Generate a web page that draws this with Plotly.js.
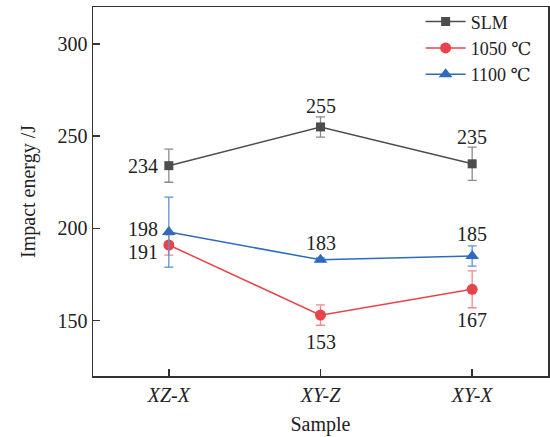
<!DOCTYPE html>
<html>
<head>
<meta charset="utf-8">
<script src="https://cdn.plot.ly/plotly-3.0.1.min.js"></script>
<style>html,body{margin:0;padding:0;background:#fff;}#chart{width:550px;height:437px;}</style>
</head>
<body>
<div id="chart"></div>
<script>
const categories = ['XZ-X', 'XY-Z', 'XY-X'];
const seriesNames = ['SLM', '1050 ℃', '1100 ℃'];
const slmValues = [234, 255, 235];
const slmErrors = [9, 5.5, 9];
const t1050Values = [191, 153, 167];
const t1050Errors = [5.5, 5.5, 10];
const t1100Values = [198, 183, 185];
const t1100Errors = [19, 1, 5.5];
const yTicks = [150, 200, 250, 300];

const FONT = 'Liberation Serif, DejaVu Serif, serif';
const TXT = '#222';

function trace(name, y, err, color, errColor, symbol, size) {
  return {
    x: categories, y: y, name: name, type: 'scatter',
    mode: 'lines+markers',
    line: {color: color, width: 1.5},
    marker: {color: color, symbol: symbol, size: size},
    error_y: {type: 'data', array: err, visible: true, color: errColor, thickness: 1.3, width: 4.5}
  };
}

const data = [
  trace(seriesNames[0], slmValues, slmErrors, '#4d4d4d', '#8a8a8a', 'square', 9),
  trace(seriesNames[1], t1050Values, t1050Errors, '#e8434a', '#f08a8a', 'circle', 11),
  trace(seriesNames[2], t1100Values, t1100Errors, '#2d6bbf', '#5b8fd6', 'triangle-up', 12)
];

// label placement: [xshift, yshift, xanchor] per point
const slmLabelPos = [[-9, 0, 'right'], [0, 21, 'center'], [0, 27, 'center']];
const t1050LabelPos = [[-9, -7, 'right'], [0, -27, 'center'], [0, -31, 'center']];
const t1100LabelPos = [[-9, 3, 'right'], [0, 17, 'center'], [0, 22, 'center']];

function labels(values, pos) {
  return values.map((v, i) => ({
    x: categories[i], y: v, xref: 'x', yref: 'y', text: String(v), showarrow: false,
    xshift: pos[i][0], yshift: pos[i][1], xanchor: pos[i][2], yanchor: 'middle',
    font: {family: FONT, size: 20, color: TXT}
  }));
}

const layout = {
  width: 550, height: 437,
  margin: {l: 93, r: 2, t: 7, b: 61},
  paper_bgcolor: '#fff', plot_bgcolor: '#fff',
  font: {family: FONT, size: 20, color: TXT},
  showlegend: true,
  legend: {x: 0.975, xanchor: 'right', y: 1.01, yanchor: 'top', bgcolor: 'rgba(0,0,0,0)',
           font: {family: FONT, size: 18, color: TXT}, itemwidth: 40, tracegroupgap: 0},
  annotations: [].concat(labels(slmValues, slmLabelPos), labels(t1050Values, t1050LabelPos), labels(t1100Values, t1100LabelPos)),
  xaxis: {
    type: 'category', range: [-0.5, 2.5],
    tickvals: categories, ticktext: categories.map(c => '<i>' + c + '</i>'),
    ticks: 'inside', ticklen: 7, tickwidth: 1.5, tickcolor: '#333',
    showline: true, linecolor: '#333', linewidth: 1.5, mirror: true,
    showgrid: false, zeroline: false,
    tickfont: {family: FONT, size: 20, color: TXT},
    title: {text: 'Sample', font: {family: FONT, size: 20, color: TXT}, standoff: 12}
  },
  yaxis: {
    range: [120, 320], tickvals: yTicks,
    ticks: 'inside', ticklen: 7, tickwidth: 1.5, tickcolor: '#333',
    showline: true, linecolor: '#333', linewidth: 1.5, mirror: true,
    showgrid: false, zeroline: false,
    tickfont: {family: FONT, size: 20, color: TXT},
    title: {text: 'Impact energy /J', font: {family: FONT, size: 20, color: TXT}, standoff: 16}
  }
};

Plotly.newPlot('chart', data, layout, {displayModeBar: false, staticPlot: true});
</script>
</body>
</html>
